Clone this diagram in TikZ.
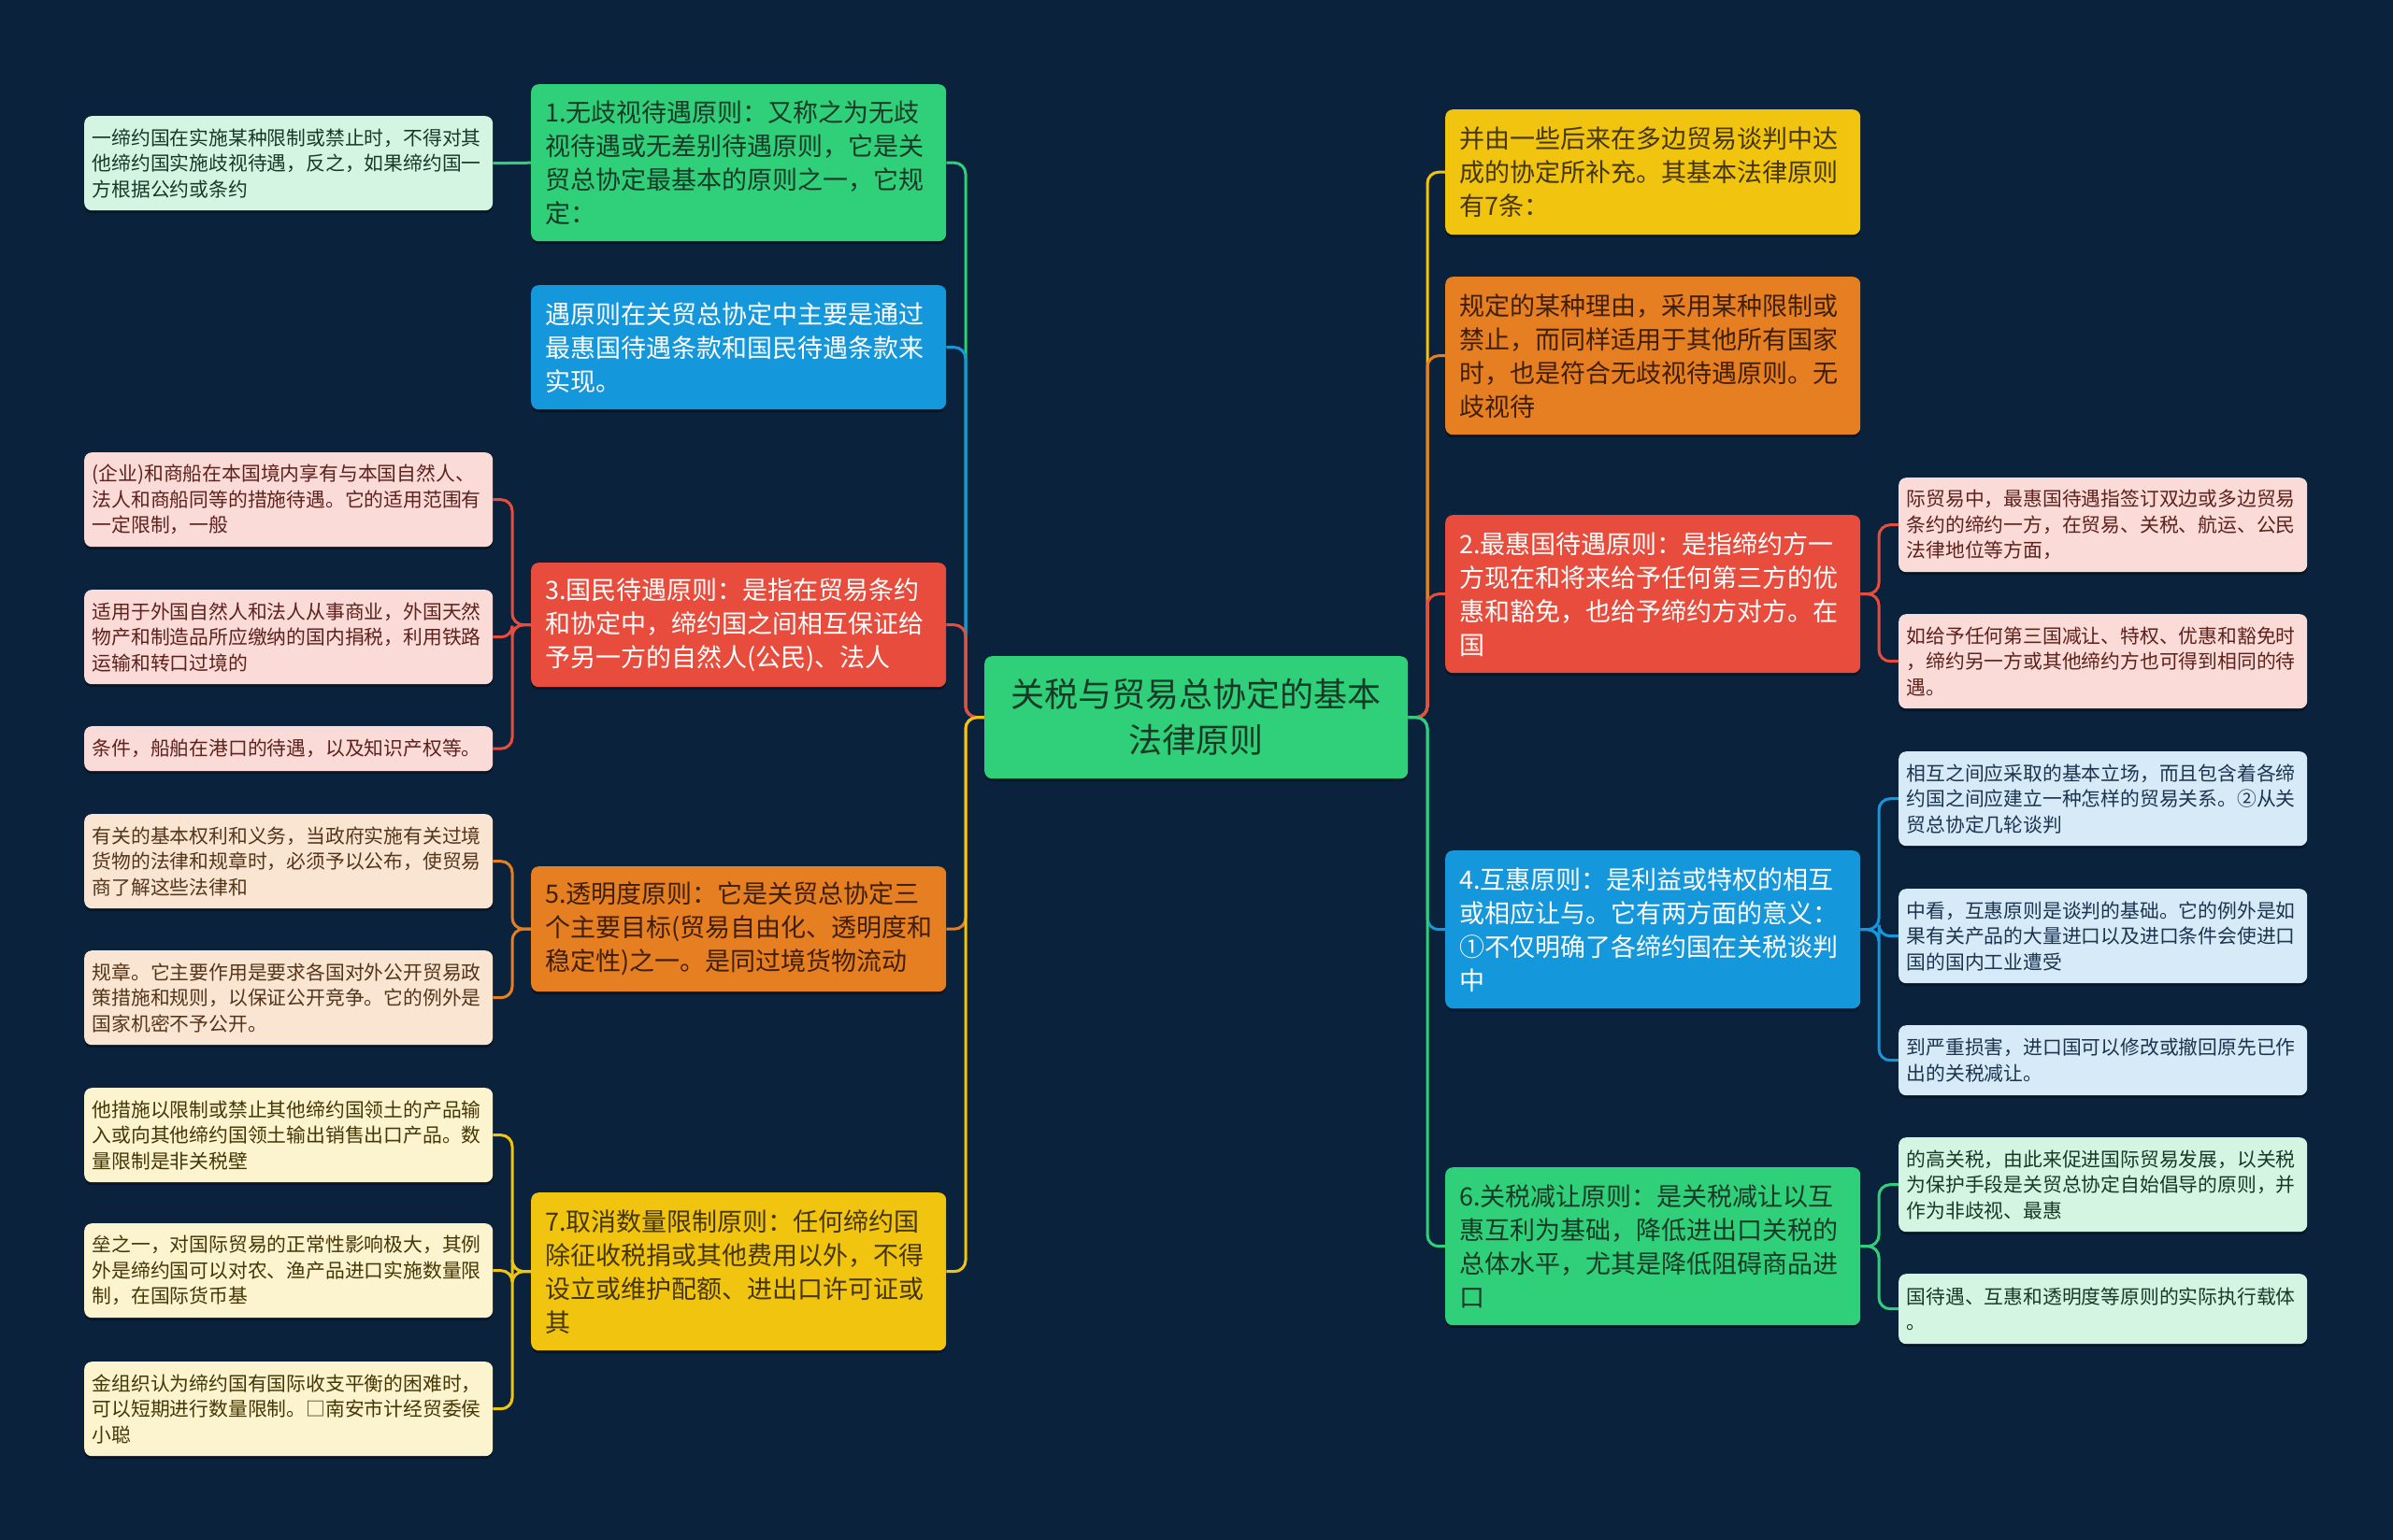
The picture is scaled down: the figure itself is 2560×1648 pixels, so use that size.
\documentclass[tikz,border=0pt]{standalone}
\usepackage{fontspec}
\setmainfont{Noto Sans CJK SC}
\usetikzlibrary{shadows}
\definecolor{bgc}{HTML}{0B223D}
\definecolor{cgreen}{HTML}{30D07A}
\definecolor{cblue}{HTML}{1597DB}
\definecolor{cred}{HTML}{E74C3C}
\definecolor{corange}{HTML}{E67E22}
\definecolor{cyellow}{HTML}{F1C40F}
\definecolor{lgreen}{HTML}{D5F5E3}
\definecolor{lpink}{HTML}{FADBD8}
\definecolor{lorange}{HTML}{FAE5D3}
\definecolor{lyellow}{HTML}{FCF3CF}
\definecolor{lblue}{HTML}{D6EAF8}
\definecolor{tgreen}{HTML}{163A25}
\definecolor{tbrown}{HTML}{3F1F06}
\definecolor{tolive}{HTML}{453705}
\definecolor{tred}{HTML}{5E211B}
\definecolor{tlbrown}{HTML}{55351A}
\definecolor{tnavy}{HTML}{1B3550}
\newcommand\mainfs{\fontsize{27pt}{36pt}\selectfont}
\newcommand\leaffs{\fontsize{20.8pt}{27.5pt}\selectfont}
\newcommand\centerfs{\fontsize{36pt}{49pt}\selectfont}
\pgfdeclarelayer{back}
\pgfdeclarelayer{lines}
\pgfsetlayers{back,lines,main}
\tikzset{
  box/.style={rectangle, rounded corners=8pt, anchor=north west, inner ysep=0pt, align=left,
    drop shadow={shadow xshift=0pt, shadow yshift=-3pt, opacity=0.35, fill=black}},
  mainbox/.style={box, minimum width=444pt, text width=414pt, inner xsep=15pt, font=\mainfs},
  leafbox/.style={box, minimum width=437pt, text width=420pt, inner xsep=8.5pt, font=\leaffs},
  conn/.style={draw=#1, line width=3pt},
}
\begin{document}
\begin{tikzpicture}[x=1pt,y=-1pt]
\begin{pgfonlayer}{back}
\fill[bgc] (0,0) rectangle (2560,1648);
\end{pgfonlayer}
\useasboundingbox (0,0) rectangle (2560,1648);
% center
\node[box, fill=cgreen, text=tgreen, minimum width=453pt, minimum height=131pt, text width=430pt, inner xsep=11.5pt, align=center, font=\centerfs] (c) at (1053,702) {关税与贸易总协定的基本\\法律原则};
% trunk coordinates
\coordinate (tl) at (1033,0);
\coordinate (tr) at (1527,0);
\coordinate (tll) at (548,0);
\coordinate (trr) at (2010,0);
% left main nodes
\node[mainbox, fill=cgreen, text=tgreen, minimum height=168pt] (n1) at (568,90) {1.无歧视待遇原则：又称之为无歧\\视待遇或无差别待遇原则，它是关\\贸总协定最基本的原则之一，它规\\定：};
\node[mainbox, fill=cblue, text=white, minimum height=133pt] (n1b) at (568,305) {遇原则在关贸总协定中主要是通过\\最惠国待遇条款和国民待遇条款来\\实现。};
\node[mainbox, fill=cred, text=white, minimum height=133pt] (n3) at (568,602) {3.国民待遇原则：是指在贸易条约\\和协定中，缔约国之间相互保证给\\予另一方的自然人(公民)、法人};
\node[mainbox, fill=corange, text=tbrown, minimum height=134pt] (n5) at (568,927) {5.透明度原则：它是关贸总协定三\\个主要目标(贸易自由化、透明度和\\稳定性)之一。是同过境货物流动};
\node[mainbox, fill=cyellow, text=tolive, minimum height=169pt] (n7) at (568,1276) {7.取消数量限制原则：任何缔约国\\除征收税捐或其他费用以外，不得\\设立或维护配额、进出口许可证或\\其};
% left leaves
\node[leafbox, fill=lgreen, text=tgreen, minimum height=101pt] (l1) at (90,124) {一缔约国在实施某种限制或禁止时，不得对其\\他缔约国实施歧视待遇，反之，如果缔约国一\\方根据公约或条约};
\node[leafbox, fill=lpink, text=tred, minimum height=101pt] (l3a) at (90,484) {(企业)和商船在本国境内享有与本国自然人、\\法人和商船同等的措施待遇。它的适用范围有\\一定限制，一般};
\node[leafbox, fill=lpink, text=tred, minimum height=101pt] (l3b) at (90,631) {适用于外国自然人和法人从事商业，外国天然\\物产和制造品所应缴纳的国内捐税，利用铁路\\运输和转口过境的};
\node[leafbox, fill=lpink, text=tred, minimum height=48pt] (l3c) at (90,777) {条件，船舶在港口的待遇，以及知识产权等。};
\node[leafbox, fill=lorange, text=tlbrown, minimum height=101pt] (l5a) at (90,871) {有关的基本权利和义务，当政府实施有关过境\\货物的法律和规章时，必须予以公布，使贸易\\商了解这些法律和};
\node[leafbox, fill=lorange, text=tlbrown, minimum height=101pt] (l5b) at (90,1017) {规章。它主要作用是要求各国对外公开贸易政\\策措施和规则，以保证公开竞争。它的例外是\\国家机密不予公开。};
\node[leafbox, fill=lyellow, text=tolive, minimum height=101pt] (l7a) at (90,1164) {他措施以限制或禁止其他缔约国领土的产品输\\入或向其他缔约国领土输出销售出口产品。数\\量限制是非关税壁};
\node[leafbox, fill=lyellow, text=tolive, minimum height=101pt] (l7b) at (90,1309) {垒之一，对国际贸易的正常性影响极大，其例\\外是缔约国可以对农、渔产品进口实施数量限\\制，在国际货币基};
\node[leafbox, fill=lyellow, text=tolive, minimum height=101pt] (l7c) at (90,1457) {金组织认为缔约国有国际收支平衡的困难时，\\可以短期进行数量限制。□南安市计经贸委侯\\小聪};
% right main nodes
\node[mainbox, fill=cyellow, text=tolive, minimum height=134pt] (r0) at (1546,117) {并由一些后来在多边贸易谈判中达\\成的协定所补充。其基本法律原则\\有7条：};
\node[mainbox, fill=corange, text=tbrown, minimum height=169pt] (r1) at (1546,296) {规定的某种理由，采用某种限制或\\禁止，而同样适用于其他所有国家\\时，也是符合无歧视待遇原则。无\\歧视待};
\node[mainbox, fill=cred, text=white, minimum height=169pt] (r2) at (1546,551) {2.最惠国待遇原则：是指缔约方一\\方现在和将来给予任何第三方的优\\惠和豁免，也给予缔约方对方。在\\国};
\node[mainbox, fill=cblue, text=white, minimum height=169pt] (r4) at (1546,910) {4.互惠原则：是利益或特权的相互\\或相应让与。它有两方面的意义：\\①不仅明确了各缔约国在关税谈判\\中};
\node[mainbox, fill=cgreen, text=tgreen, minimum height=169pt] (r6) at (1546,1249) {6.关税减让原则：是关税减让以互\\惠互利为基础，降低进出口关税的\\总体水平，尤其是降低阻碍商品进\\口};
% right leaves
\node[leafbox, fill=lpink, text=tred, minimum height=101pt] (r2a) at (2031,511) {际贸易中，最惠国待遇指签订双边或多边贸易\\条约的缔约一方，在贸易、关税、航运、公民\\法律地位等方面，};
\node[leafbox, fill=lpink, text=tred, minimum height=101pt] (r2b) at (2031,657) {如给予任何第三国减让、特权、优惠和豁免时\\，缔约另一方或其他缔约方也可得到相同的待\\遇。};
\node[leafbox, fill=lblue, text=tnavy, minimum height=101pt] (r4a) at (2031,804) {相互之间应采取的基本立场，而且包含着各缔\\约国之间应建立一种怎样的贸易关系。②从关\\贸总协定几轮谈判};
\node[leafbox, fill=lblue, text=tnavy, minimum height=101pt] (r4b) at (2031,951) {中看，互惠原则是谈判的基础。它的例外是如\\果有关产品的大量进口以及进口条件会使进口\\国的国内工业遭受};
\node[leafbox, fill=lblue, text=tnavy, minimum height=75pt] (r4c) at (2031,1097) {到严重损害，进口国可以修改或撤回原先已作\\出的关税减让。};
\node[leafbox, fill=lgreen, text=tgreen, minimum height=101pt] (r6a) at (2031,1217) {的高关税，由此来促进国际贸易发展，以关税\\为保护手段是关贸总协定自始倡导的原则，并\\作为非歧视、最惠};
\node[leafbox, fill=lgreen, text=tgreen, minimum height=75pt] (r6b) at (2031,1363) {国待遇、互惠和透明度等原则的实际执行载体\\。};
% connectors (rounded only at the child end)
\begin{pgfonlayer}{lines}
\draw[conn=cgreen] (n1.east) [rounded corners=12pt] -- (tl |- n1.east) -- (tl |- c.west) [sharp corners] -- (c.west);
\draw[conn=cblue] (n1b.east) [rounded corners=12pt] -- (tl |- n1b.east) -- (tl |- c.west) [sharp corners] -- (c.west);
\draw[conn=cred] (n3.east) [rounded corners=12pt] -- (tl |- n3.east) -- (tl |- c.west) [sharp corners] -- (c.west);
\draw[conn=corange] (n5.east) [rounded corners=12pt] -- (tl |- n5.east) -- (tl |- c.west) [sharp corners] -- (c.west);
\draw[conn=cyellow] (n7.east) [rounded corners=12pt] -- (tl |- n7.east) -- (tl |- c.west) [sharp corners] -- (c.west);
\draw[conn=cyellow] (r0.west) [rounded corners=12pt] -- (tr |- r0.west) -- (tr |- c.east) [sharp corners] -- (c.east);
\draw[conn=corange] (r1.west) [rounded corners=12pt] -- (tr |- r1.west) -- (tr |- c.east) [sharp corners] -- (c.east);
\draw[conn=cred] (r2.west) [rounded corners=12pt] -- (tr |- r2.west) -- (tr |- c.east) [sharp corners] -- (c.east);
\draw[conn=cblue] (r4.west) [rounded corners=12pt] -- (tr |- r4.west) -- (tr |- c.east) [sharp corners] -- (c.east);
\draw[conn=cgreen] (r6.west) [rounded corners=12pt] -- (tr |- r6.west) -- (tr |- c.east) [sharp corners] -- (c.east);
% left leaves
\draw[conn=cgreen] (n1.west) -- (l1.east);
\foreach \l in {l3a,l3b,l3c}{\draw[conn=cred] (\l.east) [rounded corners=12pt] -- (tll |- \l.east) -- (tll |- n3.west) [sharp corners] -- (n3.west);}
\foreach \l in {l5a,l5b}{\draw[conn=corange] (\l.east) [rounded corners=12pt] -- (tll |- \l.east) -- (tll |- n5.west) [sharp corners] -- (n5.west);}
\foreach \l in {l7a,l7b,l7c}{\draw[conn=cyellow] (\l.east) [rounded corners=12pt] -- (tll |- \l.east) -- (tll |- n7.west) [sharp corners] -- (n7.west);}
% right leaves
\foreach \l in {r2a,r2b}{\draw[conn=cred] (\l.west) [rounded corners=12pt] -- (trr |- \l.west) -- (trr |- r2.east) [sharp corners] -- (r2.east);}
\foreach \l in {r4a,r4b,r4c}{\draw[conn=cblue] (\l.west) [rounded corners=12pt] -- (trr |- \l.west) -- (trr |- r4.east) [sharp corners] -- (r4.east);}
\foreach \l in {r6a,r6b}{\draw[conn=cgreen] (\l.west) [rounded corners=12pt] -- (trr |- \l.west) -- (trr |- r6.east) [sharp corners] -- (r6.east);}
\end{pgfonlayer}
\end{tikzpicture}
\end{document}
